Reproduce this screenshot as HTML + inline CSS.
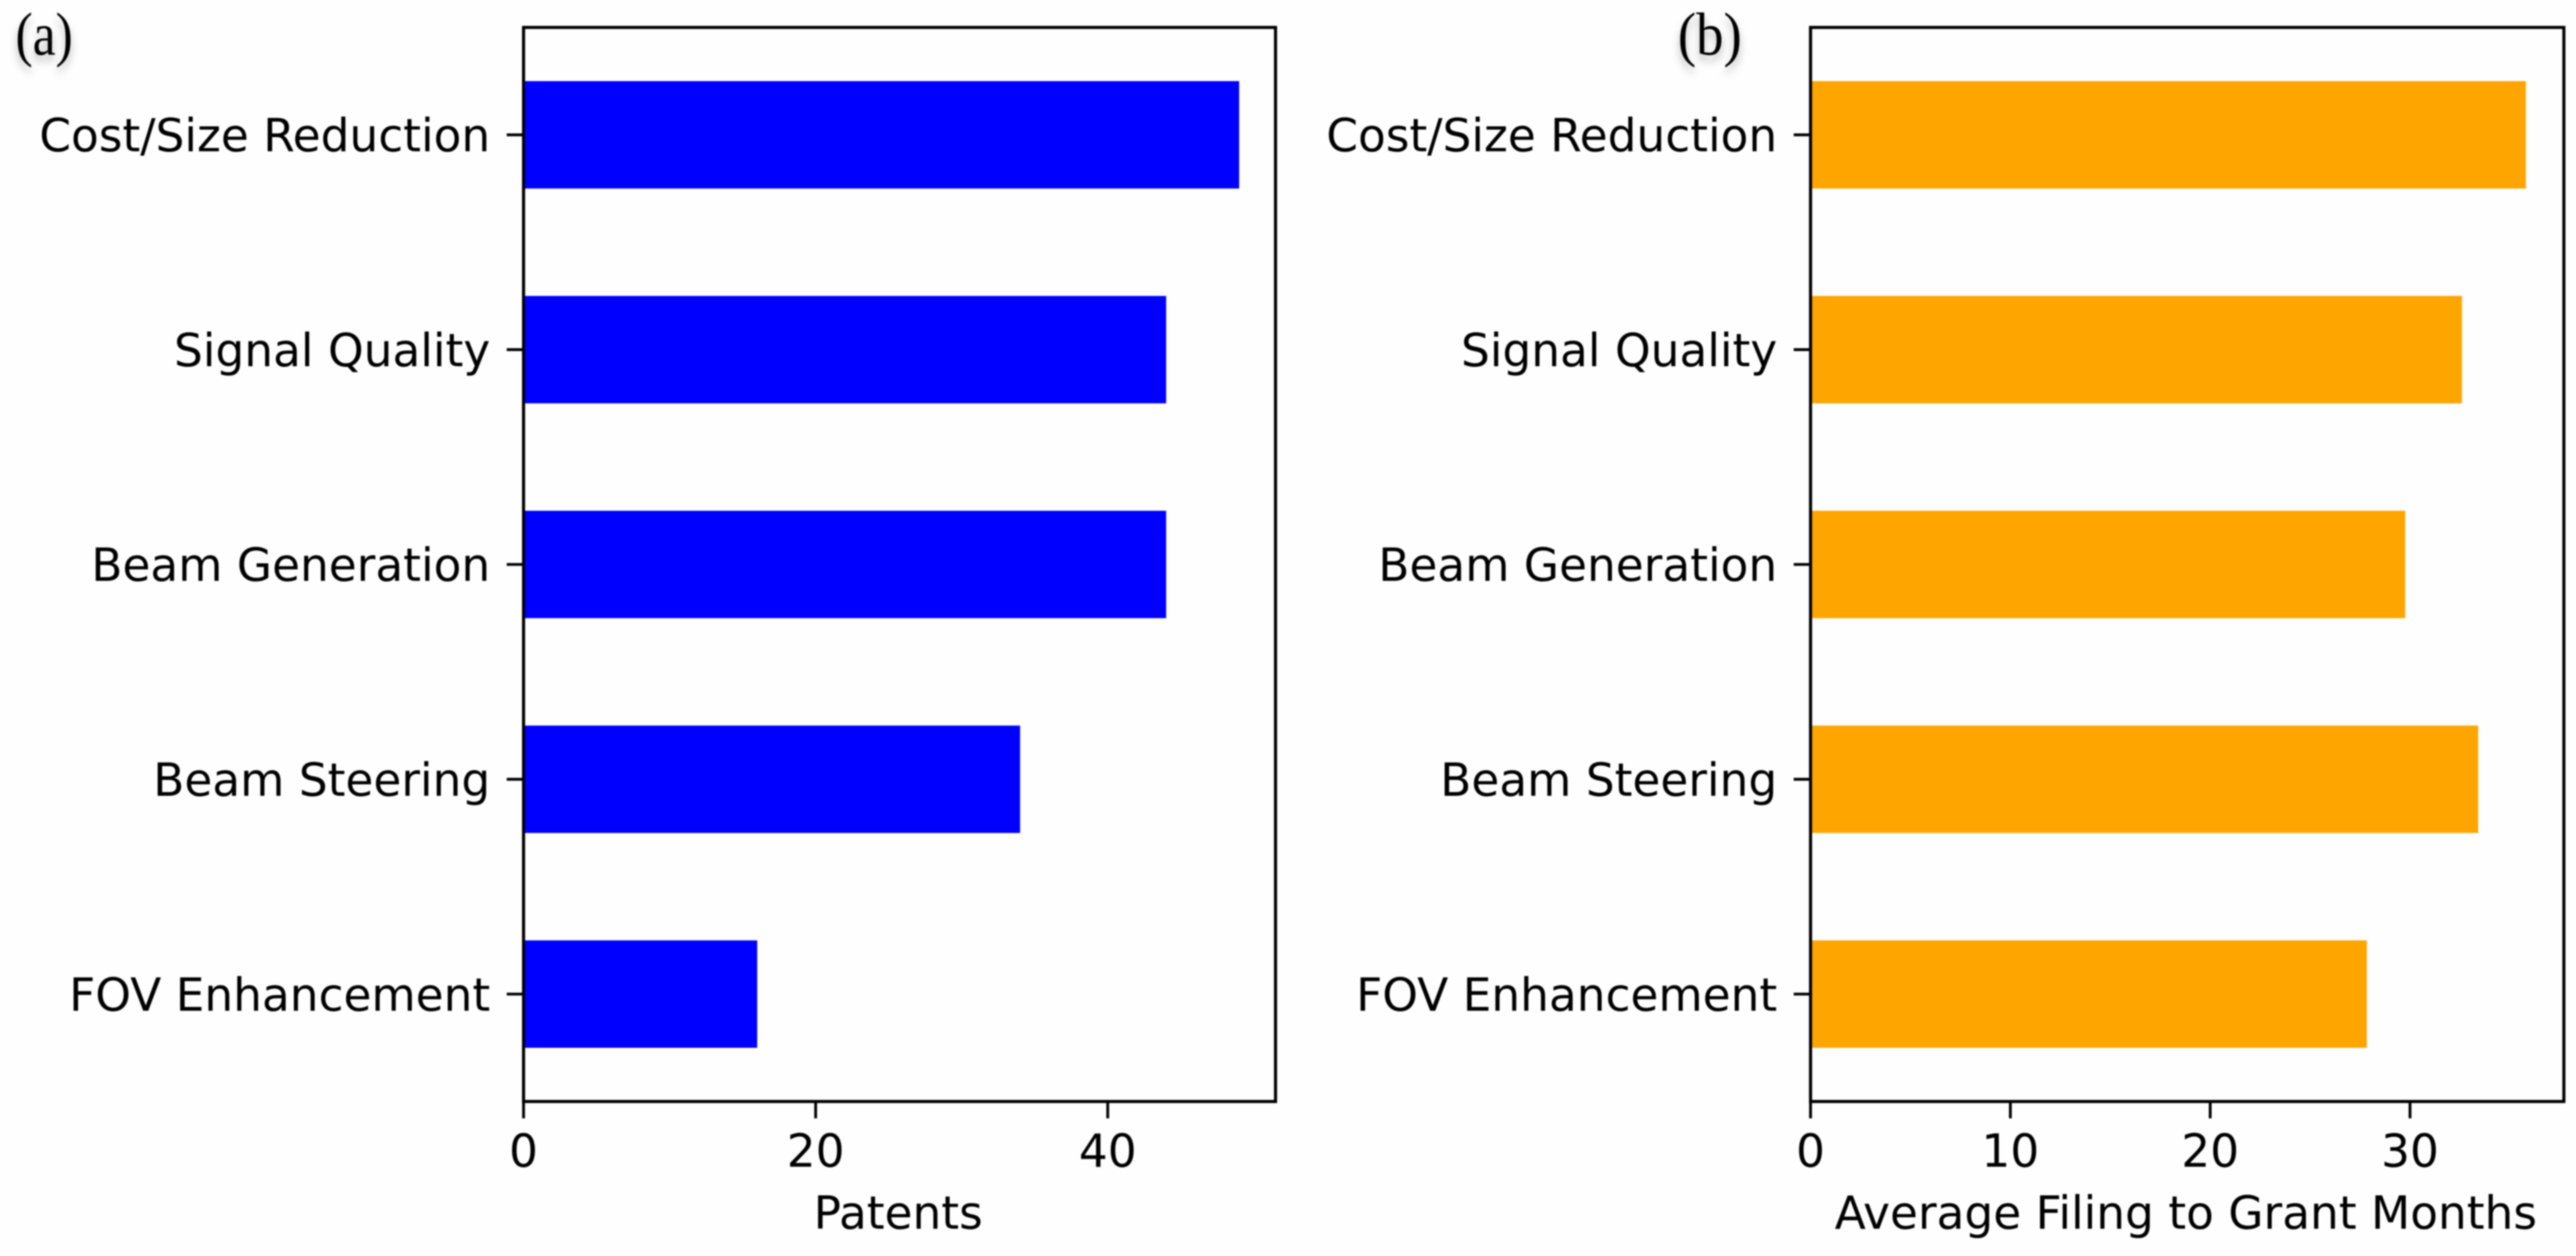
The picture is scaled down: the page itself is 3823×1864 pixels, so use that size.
<!DOCTYPE html>
<html lang="en">
<head>
<meta charset="utf-8">
<title>Patents and Filing to Grant Months by Category</title>
<style>
  html, body { margin: 0; padding: 0; background: #fff; }
  body { width: 3823px; height: 1864px; overflow: hidden; }
  svg { display: block; }
  text { fill: #000; font-family: "DejaVu Sans", "Liberation Sans", sans-serif; font-size: 67.4px; }
  text.panel-tag { font-family: "Liberation Serif", serif; font-size: 90px; filter: drop-shadow(0 9px 6px rgba(0,0,0,.28)); }
  #plot { filter: blur(1.1px); }
</style>
</head>
<body>
<svg id="chart" xmlns="http://www.w3.org/2000/svg" width="3823" height="1864" viewBox="0 0 3823 1864">
  <rect width="3823" height="1864" fill="#fefefe"/>
  <g id="plot"></g>
</svg>
<script>
const categories = ['Cost/Size Reduction', 'Signal Quality', 'Beam Generation', 'Beam Steering', 'FOV Enhancement'];
const patentValues = [49, 44, 44, 34, 16];
const monthValues = [35.8, 32.6, 29.76, 33.41, 27.84];
const patentTicks = [0, 20, 40];
const monthTicks = [0, 10, 20, 30];
const patentDomainMax = 51.49;
const monthDomainMax = 37.7;

const SVG_NS = 'http://www.w3.org/2000/svg';
const plot = document.getElementById('plot');

function shape(tag, attrs, text) {
  const el = document.createElementNS(SVG_NS, tag);
  Object.keys(attrs).forEach(function (k) { el.setAttribute(k, attrs[k]); });
  if (text !== undefined) el.textContent = text;
  plot.appendChild(el);
  return el;
}

function drawPanel(cfg) {
  const x = function (v) { return cfg.left + (v / cfg.domainMax) * (cfg.right - cfg.left); };
  const band = (cfg.bottom - cfg.top) / cfg.categories.length;
  const y = function (i) { return cfg.top + band * (i + 0.5); };
  const barHeight = band * 0.5;

  cfg.values.forEach(function (v, i) {
    const bar = shape('rect', { x: x(0), y: y(i) - barHeight / 2, width: x(v) - x(0), height: barHeight, fill: cfg.color });
    
    
  });

  cfg.categories.forEach(function (label, i) {
    const tick = shape('line', { x1: cfg.left - 25, x2: cfg.left, y1: y(i), y2: y(i), stroke: '#000', 'stroke-width': 4.2 });
    
    
    const lab = shape('text', { x: cfg.left - 49.5, y: y(i) + 24.5, 'text-anchor': 'end' }, label);
    
    
  });

  cfg.ticks.forEach(function (t) {
    const tick = shape('line', { x1: x(t), x2: x(t), y1: cfg.bottom, y2: cfg.bottom + 25, stroke: '#000', 'stroke-width': 4.2 });
    
    
    const lab = shape('text', { x: x(t), y: cfg.bottom + 97, 'text-anchor': 'middle' }, String(t));
    
    
  });

  const frame = shape('rect', { x: cfg.left, y: cfg.top, width: cfg.right - cfg.left, height: cfg.bottom - cfg.top, fill: 'none', stroke: '#000', 'stroke-width': 4.6 });
  
  

  const title = shape('text', { x: (cfg.left + cfg.right) / 2 - 2, y: cfg.bottom + 189, 'text-anchor': 'middle' }, cfg.xLabel);
  
  

  const tag = shape('text', { x: cfg.tagX, y: 81, 'class': 'panel-tag', textLength: cfg.tagWidth, lengthAdjust: 'spacingAndGlyphs' }, cfg.tag);
  
  
}

drawPanel({
  id: 'patents', tag: '(a)', tagX: 23, tagWidth: 85, left: 777, right: 1893, top: 40.7, bottom: 1634.7,
  categories: categories, values: patentValues, ticks: patentTicks, domainMax: patentDomainMax,
  color: '#0000ff', xLabel: 'Patents'
});
drawPanel({
  id: 'months', tag: '(b)', tagX: 2490, tagWidth: 95, left: 2687, right: 3805, top: 40.7, bottom: 1634.7,
  categories: categories, values: monthValues, ticks: monthTicks, domainMax: monthDomainMax,
  color: '#ffa500', xLabel: 'Average Filing to Grant Months'
});
</script>
</body>
</html>
